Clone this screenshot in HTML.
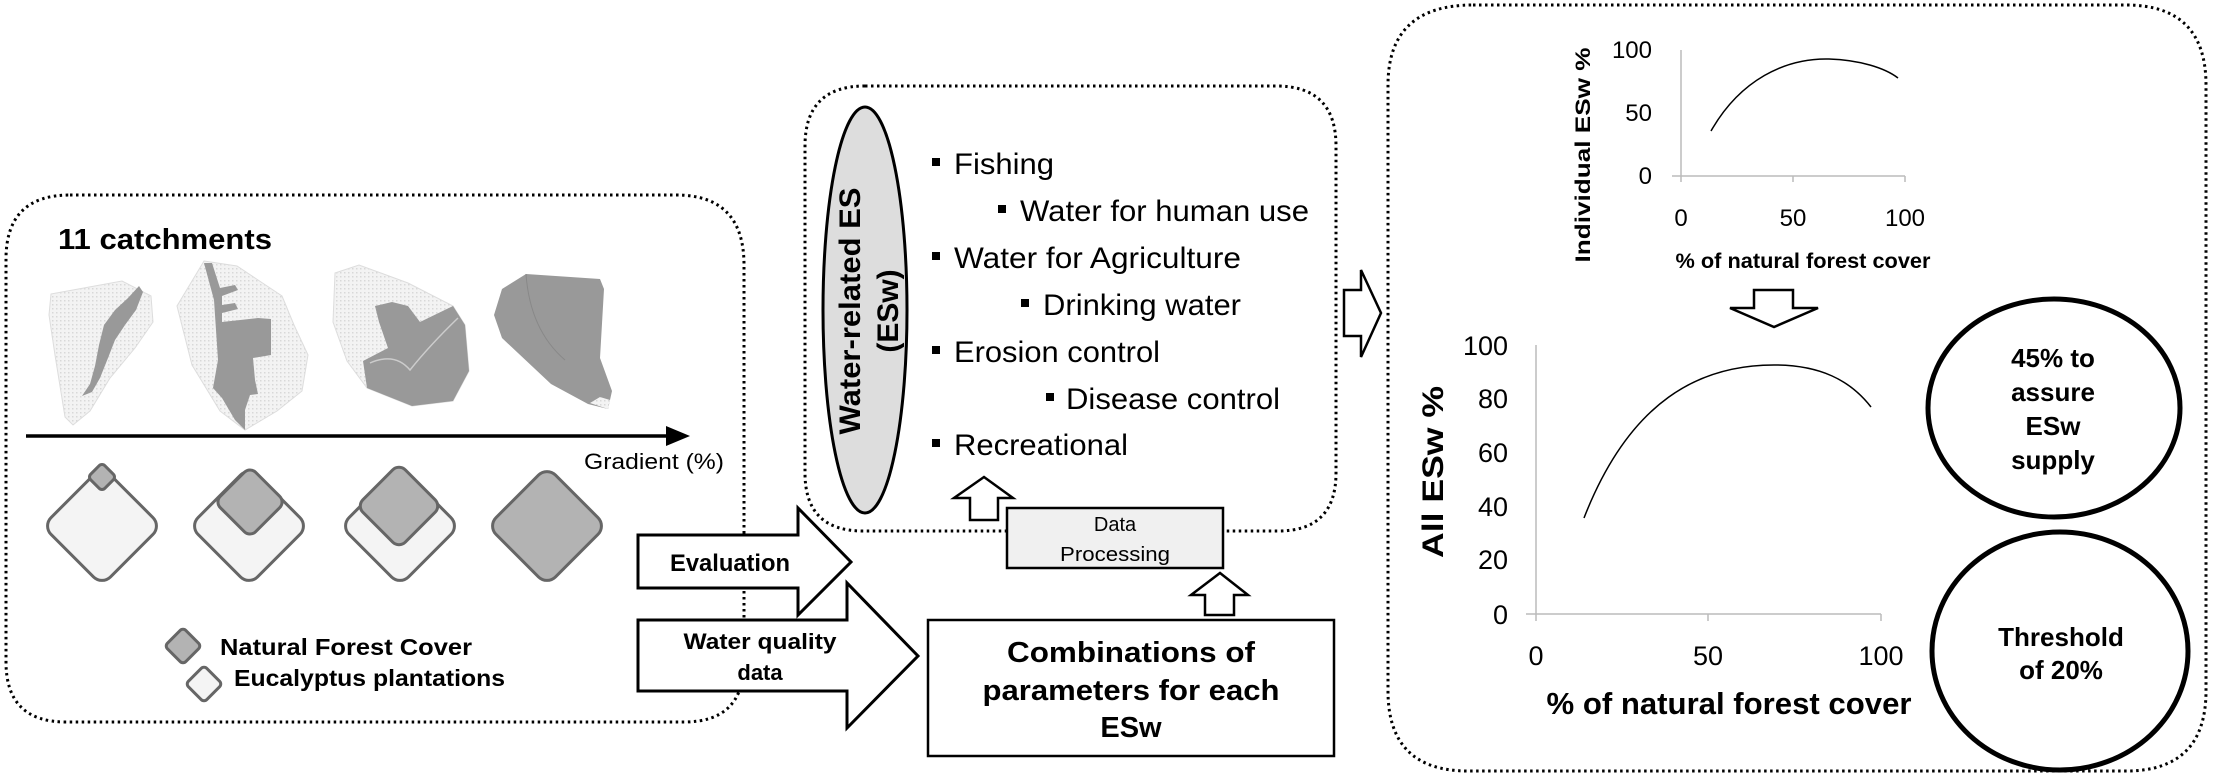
<!DOCTYPE html>
<html><head><meta charset="utf-8"><style>
html,body{margin:0;padding:0;background:#fff;}
svg{display:block;}
text{font-family:"Liberation Sans",Arial,sans-serif;fill:#000;}
.b{font-weight:bold;}
</style></head><body>
<svg width="2213" height="778" viewBox="0 0 2213 778" xmlns="http://www.w3.org/2000/svg">
<defs>
<pattern id="dots" width="4" height="4" patternUnits="userSpaceOnUse">
<rect width="4" height="4" fill="#f3f3f3"/><rect width="1.5" height="1.5" fill="#d8d8d8"/>
</pattern>
</defs>
<g fill="none" stroke="#000" stroke-width="3" stroke-dasharray="2.5 3.5">
<path d="M70,195 H676 Q744,195 744,265 V662 Q744,722 684,722 H66 Q6,722 6,662 V259 Q6,195 70,195 Z"/>
<path d="M865,86 H1276 Q1336,86 1336,146 V473 Q1336,531 1278,531 H863 Q805,531 805,473 V146 Q805,86 865,86 Z"/>
<path d="M1473,5 H2126 Q2206,5 2206,85 V691 Q2206,771 2126,771 H1468 Q1388,771 1388,691 V85 Q1388,5 1473,5 Z"/>
</g>
<text x="58" y="249" class="b" font-size="29" textLength="214" lengthAdjust="spacingAndGlyphs">11 catchments</text>
<polygon fill="url(#dots)" stroke="#ddd" points="51,294 122,281 151,296 153,322 135,348 110,378 90,411 73,425 65,417 55,355 49,315"/>
<path fill="#999" d="M139,286 L143,292 136,310 125,325 115,340 108,358 100,378 92,392 82,396 90,384 95,366 99,345 104,325 115,310 128,298 Z"/>
<polygon fill="url(#dots)" stroke="#ddd" points="204,261 237,266 282,296 294,325 308,355 302,391 277,411 245,430 220,411 192,365 177,306"/>
<path fill="#999" d="M204,263 L212,263 220,288 235,285 238,290 222,296 222,305 235,303 238,309 222,313 222,322 258,318 271,319 271,355 253,358 255,380 258,394 250,395 245,410 245,430 235,420 222,398 213,388 218,360 216,330 214,300 Z"/>
<polygon fill="url(#dots)" stroke="#ddd" points="335,273 359,265 408,283 453,306 465,325 469,371 453,401 412,406 367,388 347,361 333,322"/>
<polygon fill="#999" points="375,306 392,302 408,306 420,322 453,306 465,325 469,371 453,401 412,406 367,388 363,361 388,348 379,322"/>
<path d="M370,363 Q395,352 410,370 Q430,345 458,318" fill="none" stroke="#ccc" stroke-width="1.5"/>
<polygon fill="#999" points="502,289 526,274 600,279 604,289 600,358 612,391 608,409 588,404 551,384 502,338 494,315"/>
<polygon fill="url(#dots)" points="590,403 600,397 610,400 608,409"/>
<path d="M526,274 Q530,330 565,360" fill="none" stroke="#888" stroke-width="1"/>
<line x1="26" y1="436" x2="668" y2="436" stroke="#000" stroke-width="3.5"/>
<polygon points="666,426 690,436 666,446" fill="#000"/>
<text x="584" y="469" font-size="22" textLength="140" lengthAdjust="spacingAndGlyphs">Gradient (%)</text>
<g stroke="#666" stroke-width="3" stroke-linejoin="round">
<rect x="-42" y="-42" width="84" height="84" rx="12" transform="translate(102,526) rotate(45)" fill="#f4f4f4"/>
<rect x="-10" y="-10" width="20" height="20" rx="4" transform="translate(102,477) rotate(45)" fill="#b3b3b3"/>
<rect x="-42" y="-42" width="84" height="84" rx="12" transform="translate(249,526) rotate(45)" fill="#f4f4f4"/>
<rect x="-25" y="-25" width="50" height="50" rx="8" transform="translate(250,502) rotate(45)" fill="#b3b3b3"/>
<rect x="-42" y="-42" width="84" height="84" rx="12" transform="translate(400,526) rotate(45)" fill="#f4f4f4"/>
<rect x="-30" y="-30" width="60" height="60" rx="9" transform="translate(399,506) rotate(45)" fill="#b3b3b3"/>
<rect x="-42" y="-42" width="84" height="84" rx="12" transform="translate(547,526) rotate(45)" fill="#b3b3b3"/>
<rect x="-13" y="-13" width="26" height="26" rx="4" transform="translate(183,646) rotate(45)" fill="#b3b3b3"/>
<rect x="-13" y="-13" width="26" height="26" rx="4" transform="translate(204,684) rotate(45)" fill="#f4f4f4"/>
</g>
<text x="220" y="655" class="b" font-size="23" textLength="252" lengthAdjust="spacingAndGlyphs">Natural Forest  Cover</text>
<text x="234" y="686" class="b" font-size="23" textLength="271" lengthAdjust="spacingAndGlyphs">Eucalyptus plantations</text>
<polygon points="638,535 798,535 798,508 851,562 798,615 798,588 638,588" fill="#fff" stroke="#000" stroke-width="3"/>
<text x="670" y="571" class="b" font-size="24" textLength="120" lengthAdjust="spacingAndGlyphs">Evaluation</text>
<polygon points="638,620 847,620 847,583 918,656 847,728 847,691 638,691" fill="#fff" stroke="#000" stroke-width="3"/>
<text x="760" y="649" class="b" font-size="22" text-anchor="middle" textLength="153" lengthAdjust="spacingAndGlyphs">Water quality</text>
<text x="760" y="680" class="b" font-size="22" text-anchor="middle">data</text>
<rect x="928" y="620" width="406" height="136" fill="#fff" stroke="#000" stroke-width="2.5"/>
<text x="1131" y="662" class="b" font-size="29" text-anchor="middle" textLength="248" lengthAdjust="spacingAndGlyphs">Combinations of</text>
<text x="1131" y="700" class="b" font-size="29" text-anchor="middle" textLength="297" lengthAdjust="spacingAndGlyphs">parameters for each</text>
<text x="1131" y="737" class="b" font-size="29" text-anchor="middle">ESw</text>
<polygon points="1205,615 1234,615 1234,595 1248,595 1220,573 1191,595 1205,595" fill="#fff" stroke="#000" stroke-width="2.5"/>
<polygon points="970,520 998,520 998,498 1013,498 984,477 954,498 970,498" fill="#fff" stroke="#000" stroke-width="2.5"/>
<rect x="1007" y="508" width="216" height="60" fill="#f0f0f0" stroke="#000" stroke-width="2.5"/>
<text x="1115" y="531" font-size="20" text-anchor="middle">Data</text>
<text x="1115" y="561" font-size="20" text-anchor="middle" textLength="110" lengthAdjust="spacingAndGlyphs">Processing</text>
<ellipse cx="865" cy="310" rx="42" ry="203" fill="#ddd" stroke="#000" stroke-width="3"/>
<text transform="translate(860,311) rotate(-90)" class="b" font-size="30" text-anchor="middle" textLength="247" lengthAdjust="spacingAndGlyphs">Water-related ES</text>
<text transform="translate(898,311) rotate(-90)" class="b" font-size="30" text-anchor="middle">(ESw)</text>
<g font-size="30">
<rect x="932" y="158" width="8" height="8"/><text x="954" y="174" textLength="100" lengthAdjust="spacingAndGlyphs">Fishing</text>
<rect x="998" y="205" width="8" height="8"/><text x="1020" y="221" textLength="289" lengthAdjust="spacingAndGlyphs">Water for human use</text>
<rect x="932" y="252" width="8" height="8"/><text x="954" y="268" textLength="287" lengthAdjust="spacingAndGlyphs">Water for Agriculture</text>
<rect x="1021" y="299" width="8" height="8"/><text x="1043" y="315" textLength="198" lengthAdjust="spacingAndGlyphs">Drinking water</text>
<rect x="932" y="346" width="8" height="8"/><text x="954" y="362" textLength="206" lengthAdjust="spacingAndGlyphs">Erosion control</text>
<rect x="1046" y="393" width="8" height="8"/><text x="1066" y="409" textLength="214" lengthAdjust="spacingAndGlyphs">Disease control</text>
<rect x="932" y="439" width="8" height="8"/><text x="954" y="455" textLength="174" lengthAdjust="spacingAndGlyphs">Recreational</text>
</g>
<polygon points="1344,290 1361,290 1361,270 1381,313 1361,357 1361,336 1344,336" fill="#fff" stroke="#000" stroke-width="2.5"/>
<g stroke="#bbb" stroke-width="1.5" fill="none">
<path d="M1681,50 V176 M1672,176 H1905 M1681,176 V182 M1793,176 V182 M1905,176 V182"/>
</g>
<path d="M1711,131 C1740,80 1785,58 1829,59 C1860,60 1885,68 1898,78" fill="none" stroke="#000" stroke-width="1.5"/>
<g font-size="24" text-anchor="end">
<text x="1652" y="58">100</text><text x="1652" y="121">50</text><text x="1652" y="184">0</text>
</g>
<g font-size="24" text-anchor="middle">
<text x="1681" y="226">0</text><text x="1793" y="226">50</text><text x="1905" y="226">100</text>
</g>
<text transform="translate(1590,155) rotate(-90)" class="b" font-size="21" text-anchor="middle" textLength="215" lengthAdjust="spacingAndGlyphs">Individual ESw %</text>
<text x="1803" y="268" class="b" font-size="21" text-anchor="middle" textLength="255" lengthAdjust="spacingAndGlyphs">% of natural forest cover</text>
<polygon points="1754,290 1793,290 1793,308 1818,308 1774,327 1730,308 1754,308" fill="#fff" stroke="#000" stroke-width="2.5"/>
<g stroke="#bbb" stroke-width="1.5" fill="none">
<path d="M1536,345 V614 M1526,614 H1881 M1536,614 V621 M1708,614 V621 M1881,614 V621"/>
</g>
<path d="M1584,518 C1630,400 1700,365 1774,365 C1820,365 1850,380 1871,407" fill="none" stroke="#000" stroke-width="1.5"/>
<g font-size="27" text-anchor="end">
<text x="1508" y="355">100</text><text x="1508" y="408">80</text><text x="1508" y="462">60</text><text x="1508" y="516">40</text><text x="1508" y="569">20</text><text x="1508" y="624">0</text>
</g>
<g font-size="27" text-anchor="middle">
<text x="1536" y="665">0</text><text x="1708" y="665">50</text><text x="1881" y="665">100</text>
</g>
<text transform="translate(1443,472) rotate(-90)" class="b" font-size="30" text-anchor="middle" textLength="172" lengthAdjust="spacingAndGlyphs">All  ESw %</text>
<text x="1729" y="714" class="b" font-size="31" text-anchor="middle" textLength="365" lengthAdjust="spacingAndGlyphs">% of natural forest cover</text>
<ellipse cx="2054" cy="408" rx="126" ry="109" fill="none" stroke="#000" stroke-width="5"/>
<ellipse cx="2060" cy="651" rx="128" ry="119" fill="none" stroke="#000" stroke-width="5"/>
<g font-size="26" text-anchor="middle">
<text x="2053" y="367" font-weight="bold">45%  to</text>
<text x="2053" y="401" font-weight="bold">assure</text>
<text x="2053" y="435" font-weight="bold">ESw</text>
<text x="2053" y="469" font-weight="bold">supply</text>
<text x="2061" y="646" font-weight="bold">Threshold</text>
<text x="2061" y="679" font-weight="bold">of 20%</text>
</g>
</svg>
</body></html>
